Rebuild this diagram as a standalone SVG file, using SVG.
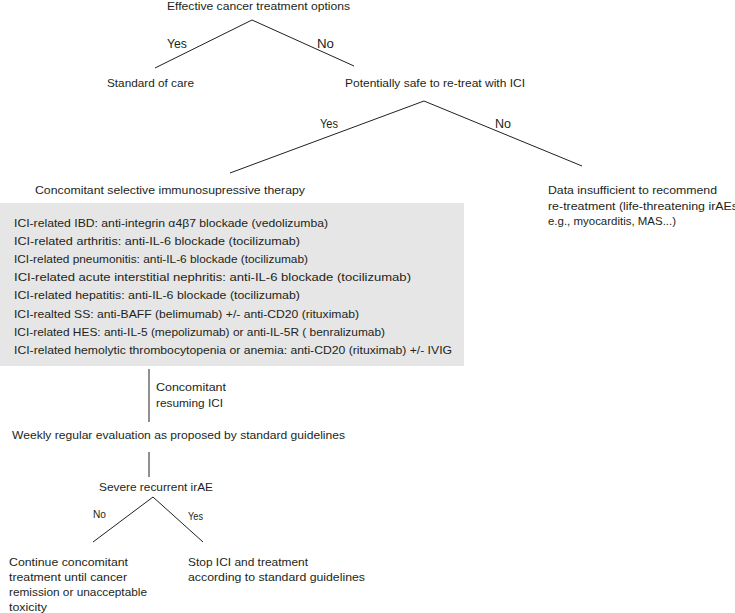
<svg xmlns="http://www.w3.org/2000/svg" width="735" height="613" viewBox="0 0 735 613">
<style>
text{font-family:"Liberation Sans",Arial,sans-serif;fill:#231f20;font-size:11.5px}
.l1{font-size:13.5px}.l2{font-size:12.5px}.l3{font-size:10px}
.c line{stroke:#231f20;stroke-width:1}
</style>
<rect width="735" height="613" fill="#fff"/>
<g id="box"><rect x="0" y="203" width="464" height="163" fill="#e6e6e6"/></g>
<g class="c" id="connectors">
<line x1="252" y1="20" x2="155" y2="68"/>
<line x1="252" y1="20" x2="354" y2="66"/>
<line x1="424" y1="101" x2="230" y2="173"/>
<line x1="424" y1="101" x2="582" y2="166"/>
<line x1="149" y1="369" x2="149" y2="422"/>
<line x1="149" y1="452" x2="149" y2="477"/>
<line x1="153" y1="497" x2="93" y2="542"/>
<line x1="153" y1="497" x2="203" y2="542"/>
</g>
<g id="labels">
<text class="l1" x="167" y="48" textLength="20" lengthAdjust="spacingAndGlyphs">Yes</text>
<text class="l1" x="317" y="48" textLength="17" lengthAdjust="spacingAndGlyphs">No</text>
<text class="l2" x="320" y="128" textLength="18" lengthAdjust="spacingAndGlyphs">Yes</text>
<text class="l2" x="495" y="128" textLength="16" lengthAdjust="spacingAndGlyphs">No</text>
<text x="156" y="391" textLength="70" lengthAdjust="spacingAndGlyphs">Concomitant</text>
<text x="156" y="407" textLength="67" lengthAdjust="spacingAndGlyphs">resuming ICI</text>
<text class="l3" x="93" y="518" textLength="13" lengthAdjust="spacingAndGlyphs">No</text>
<text class="l3" x="188" y="520" textLength="15" lengthAdjust="spacingAndGlyphs">Yes</text>
</g>
<g id="n-effective"><text x="167" y="10" textLength="183" lengthAdjust="spacingAndGlyphs">Effective cancer treatment options</text></g>
<g id="n-standard"><text x="107" y="87" textLength="87" lengthAdjust="spacingAndGlyphs">Standard of care</text></g>
<g id="n-safe"><text x="345" y="87" textLength="180" lengthAdjust="spacingAndGlyphs">Potentially safe to re-treat with ICI</text></g>
<g id="n-concomitant"><text x="35" y="194" textLength="270" lengthAdjust="spacingAndGlyphs">Concomitant selective immunosupressive therapy</text></g>
<g id="n-insufficient">
<text x="548" y="194" textLength="169" lengthAdjust="spacingAndGlyphs">Data insufficient to recommend</text>
<text x="548" y="210" textLength="190" lengthAdjust="spacingAndGlyphs">re-treatment (life-threatening irAEs</text>
<text x="548" y="225" textLength="128" lengthAdjust="spacingAndGlyphs">e.g., myocarditis, MAS...)</text>
</g>
<g id="n-therapies">
<text x="14" y="227" textLength="314" lengthAdjust="spacingAndGlyphs">ICI-related IBD: anti-integrin α4β7 blockade (vedolizumba)</text>
<text x="14" y="245" textLength="286" lengthAdjust="spacingAndGlyphs">ICI-related arthritis: anti-IL-6 blockade (tocilizumab)</text>
<text x="14" y="263" textLength="294" lengthAdjust="spacingAndGlyphs">ICI-related pneumonitis: anti-IL-6 blockade (tocilizumab)</text>
<text x="14" y="281" textLength="397" lengthAdjust="spacingAndGlyphs">ICI-related acute interstitial nephritis: anti-IL-6 blockade (tocilizumab)</text>
<text x="14" y="299" textLength="286" lengthAdjust="spacingAndGlyphs">ICI-related hepatitis: anti-IL-6 blockade (tocilizumab)</text>
<text x="14" y="318" textLength="345" lengthAdjust="spacingAndGlyphs">ICI-realted SS: anti-BAFF (belimumab) +/- anti-CD20 (rituximab)</text>
<text x="14" y="336" textLength="371" lengthAdjust="spacingAndGlyphs">ICI-related HES: anti-IL-5 (mepolizumab) or anti-IL-5R ( benralizumab)</text>
<text x="14" y="354" textLength="438" lengthAdjust="spacingAndGlyphs">ICI-related hemolytic thrombocytopenia or anemia: anti-CD20 (rituximab) +/- IVIG</text>
</g>
<g id="n-weekly"><text x="12" y="439" textLength="333" lengthAdjust="spacingAndGlyphs">Weekly regular evaluation as proposed by standard guidelines</text></g>
<g id="n-severe"><text x="99" y="491" textLength="114" lengthAdjust="spacingAndGlyphs">Severe recurrent irAE</text></g>
<g id="n-continue">
<text x="9" y="566" textLength="119" lengthAdjust="spacingAndGlyphs">Continue concomitant</text>
<text x="9" y="581" textLength="118" lengthAdjust="spacingAndGlyphs">treatment until cancer</text>
<text x="9" y="596" textLength="138" lengthAdjust="spacingAndGlyphs">remission or unacceptable</text>
<text x="9" y="611" textLength="38" lengthAdjust="spacingAndGlyphs">toxicity</text>
</g>
<g id="n-stop">
<text x="188" y="566" textLength="120" lengthAdjust="spacingAndGlyphs">Stop ICI and treatment</text>
<text x="188" y="581" textLength="177" lengthAdjust="spacingAndGlyphs">according to standard guidelines</text>
</g>
</svg>
